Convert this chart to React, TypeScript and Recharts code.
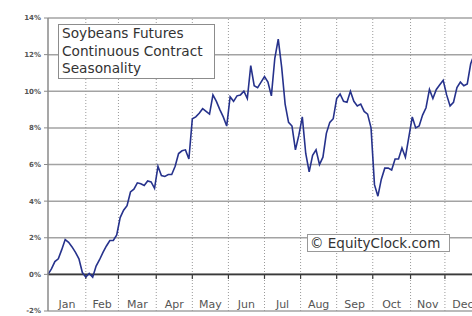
import { LineChart, Line, XAxis, YAxis, CartesianGrid, ReferenceLine } from "recharts";

const months = ["Jan", "Feb", "Mar", "Apr", "May", "Jun", "Jul", "Aug", "Sep", "Oct", "Nov", "Dec"];
// trading day on which each month begins (252 trading days per year)
const monthStartDays = [0, 22, 41, 63, 84, 105, 126, 147, 168, 189, 211, 231];
const yearEndDay = 252;
const percentTicks = [-2, 0, 2, 4, 6, 8, 10, 12, 14];

// average seasonal return (%), one reading every 2 trading days
const sampleEvery = 2;
const seasonality = [
  0.0, 0.3, 0.7, 0.85, 1.35, 1.9, 1.75, 1.5, 1.2, 0.85, 0.1, -0.15,
  0.05, -0.15, 0.45, 0.8, 1.2, 1.55, 1.85, 1.85, 2.15, 3.1, 3.5, 3.75,
  4.5, 4.65, 5.0, 4.95, 4.85, 5.1, 5.05, 4.7, 5.9, 5.4, 5.35, 5.45,
  5.45, 5.9, 6.6, 6.75, 6.8, 6.3, 8.5, 8.6, 8.8, 9.05, 8.9, 8.75,
  9.8, 9.45, 9.0, 8.6, 8.1, 9.7, 9.45, 9.75, 9.8, 10.0, 9.6, 11.4,
  10.3, 10.2, 10.5, 10.8, 10.5, 9.75, 11.8, 12.85, 11.3, 9.3, 8.3, 8.1,
  6.8, 7.6, 8.6, 6.6, 5.6, 6.5, 6.8, 6.0, 6.4, 7.7, 8.3, 8.5,
  9.6, 9.85, 9.45, 9.4, 10.0, 9.45, 9.2, 9.3, 8.9, 8.75, 8.0, 4.9,
  4.27, 5.2, 5.8, 5.8, 5.7, 6.3, 6.3, 6.9, 6.4, 7.5, 8.6, 8.0,
  8.1, 8.7, 9.1, 10.1, 9.6, 10.1, 10.35, 10.6, 9.8, 9.2, 9.4, 10.2,
  10.5, 10.3, 10.4, 11.5, 12.0,
];

const data = seasonality.map((pct, i) => ({ day: i * sampleEvery, pct }));
const monthMids = monthStartDays.map((d, i) => (d + (monthStartDays[i + 1] ?? yearEndDay)) / 2);

const font = "'DejaVu Sans', Verdana, sans-serif";

// month names sit inside the plot, between the 0% and -2% lines
function MonthTick(props: any) {
  const { x, y, payload } = props;
  const idx = monthMids.indexOf(payload.value);
  return (
    <text x={x} y={y - 11} textAnchor="middle" fontSize={11} fill="#555" fontFamily={font}>
      {months[idx]}
    </text>
  );
}

export default function App() {
  return (
    <div
      style={{
        position: "absolute",
        left: 0,
        top: 0,
        width: 472,
        height: 316,
        overflow: "hidden",
        background: "#fff",
        fontFamily: font,
      }}
    >
      <LineChart width={490} height={316} data={data} margin={{ top: 18, right: 9, left: 0, bottom: 0 }}>
        <CartesianGrid vertical={false} stroke="#a3a3a3" strokeWidth={1.5} />
        {monthStartDays.slice(1).map((d) => (
          <ReferenceLine key={d} x={d} stroke="#9a9a9a" strokeDasharray="1 2" />
        ))}
        <ReferenceLine y={0} stroke="#3a3a3a" strokeWidth={1.8} />
        {monthStartDays.slice(1).map((d) => (
          <ReferenceLine
            key={"t" + d}
            segment={[
              { x: d, y: 0 },
              { x: d, y: -0.25 },
            ]}
            stroke="#3a3a3a"
            strokeWidth={1.2}
          />
        ))}
        <XAxis
          type="number"
          dataKey="day"
          domain={[0, yearEndDay]}
          ticks={monthMids}
          tick={<MonthTick />}
          axisLine={false}
          tickLine={false}
          height={5}
          interval={0}
        />
        <YAxis
          type="number"
          domain={[-2, 14]}
          ticks={percentTicks}
          tickFormatter={(v) => `${v}%`}
          tick={{ fontSize: 7, fontWeight: "bold", fill: "#555", fontFamily: font }}
          axisLine={{ stroke: "#8a8a8a", strokeWidth: 1.5 }}
          tickLine={{ stroke: "#8a8a8a" }}
          tickSize={4}
          tickMargin={3}
          width={48}
          interval={0}
        />
        <Line
          type="linear"
          dataKey="pct"
          stroke="#26328c"
          strokeWidth={1.6}
          dot={false}
          isAnimationActive={false}
        />
      </LineChart>

      <div
        style={{
          position: "absolute",
          left: 58,
          top: 24,
          width: 152,
          height: 53,
          border: "1.5px solid #8c8c8c",
          background: "#fff",
          paddingLeft: 3,
          fontSize: 13.7,
          lineHeight: "17.5px",
          color: "#333",
          whiteSpace: "nowrap",
        }}
      >
        Soybeans Futures
        <br />
        Continuous Contract
        <br />
        Seasonality
      </div>

      <div
        style={{
          position: "absolute",
          left: 307,
          top: 234,
          width: 139,
          height: 16,
          border: "1.5px solid #999",
          background: "#fff",
          paddingLeft: 2,
          fontSize: 13.5,
          lineHeight: "16px",
          color: "#333",
          whiteSpace: "nowrap",
        }}
      >
        © EquityClock.com
      </div>
    </div>
  );
}
